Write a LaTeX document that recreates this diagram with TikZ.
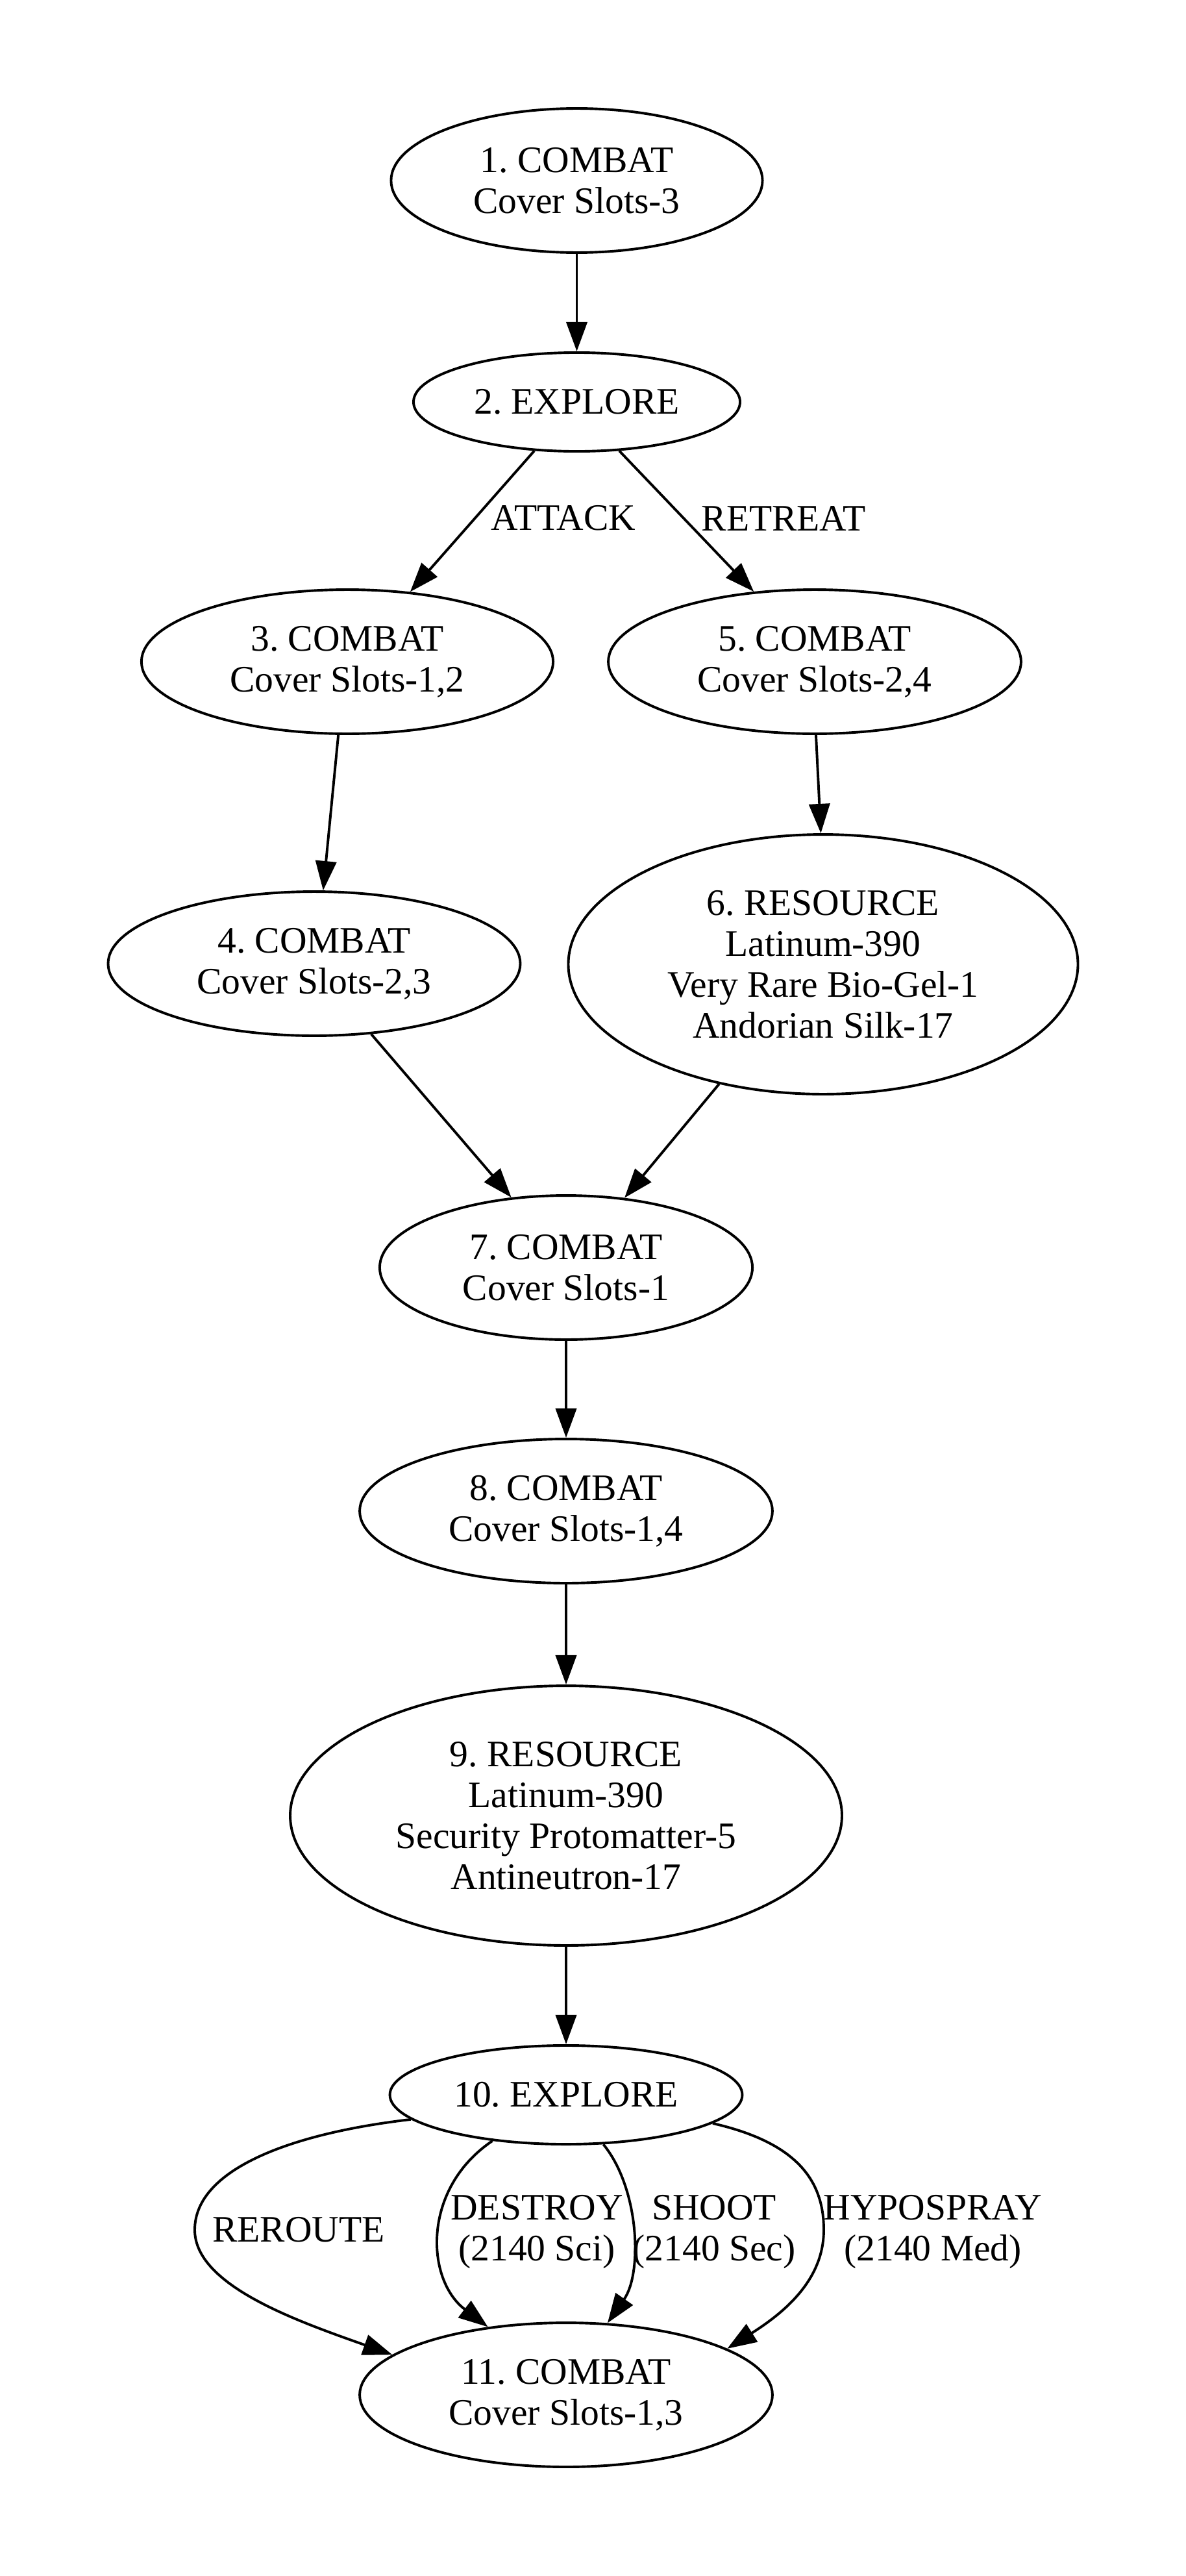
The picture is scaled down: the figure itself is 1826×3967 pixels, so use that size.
\documentclass[tikz,border=0pt]{standalone}
\usepackage{fontspec}
\setmainfont{Liberation Serif}
\usetikzlibrary{shapes.geometric,arrows.meta}
\frenchspacing
\begin{document}
\begin{tikzpicture}[x=0.2433pt,y=-0.2433pt,
  st/.style={ellipse,draw,line width=0.95pt,inner sep=0pt,align=center,font=\fontsize{14}{15.3}\selectfont},
  two/.style={minimum height=54pt},
  one/.style={minimum height=37pt},
  four/.style={minimum height=97.3pt},
  lab/.style={inner sep=0pt,align=center,font=\fontsize{14}{15.3}\selectfont},
  conn/.style={line width=0.95pt,-{Triangle[length=11pt,width=7.8pt]}}]
\fill[white] (0,0) rectangle (1826,3967);
\useasboundingbox (0,0) rectangle (1826,3967);
% nodes
\node[st,two,minimum width=139.2pt] (n1) at (888.5,278) {1. COMBAT\\Cover Slots-3};
\node[st,one,minimum width=122.4pt] (n2) at (888.5,619) {2. EXPLORE};
\node[st,two,minimum width=154.3pt] (n3) at (535,1019) {3. COMBAT\\Cover Slots-1,2};
\node[st,two,minimum width=154.7pt] (n5) at (1255,1019) {5. COMBAT\\Cover Slots-2,4};
\node[st,two,minimum width=154.5pt] (n4) at (484,1484) {4. COMBAT\\Cover Slots-2,3};
\node[st,four,minimum width=191pt] (n6) at (1268,1485) {6. RESOURCE\\Latinum-390\\Very Rare Bio-Gel-1\\Andorian Silk-17};
\node[st,two,minimum width=139.7pt] (n7) at (872,1952) {7. COMBAT\\Cover Slots-1};
\node[st,two,minimum width=154.7pt] (n8) at (872,2327) {8. COMBAT\\Cover Slots-1,4};
\node[st,four,minimum width=206.8pt] (n9) at (872,2796) {9. RESOURCE\\Latinum-390\\Security Protomatter-5\\Antineutron-17};
\node[st,one,minimum width=132.1pt] (n10) at (872,3226) {10. EXPLORE};
\node[st,two,minimum width=154.7pt] (n11) at (872,3688) {11. COMBAT\\Cover Slots-1,3};
% edge labels
\node[lab] (lattack) at (868,798) {ATTACK};
\node[lab] (lretreat) at (1207,798) {RETREAT};
\node[lab] (lreroute) at (460,3434) {REROUTE};
\node[lab] (ldestroy) at (827,3437) {DESTROY\\(2140 Sci)};
\node[lab] (lshoot) at (1100,3437) {SHOOT\\(2140 Sec)};
\node[lab] (lhypo) at (1437,3437) {HYPOSPRAY\\(2140 Med)};
% edges
\draw[conn] (n1.south) -- (n2.north);
\draw[conn] (n2.229) -- (n3.48.4);
\draw[conn] (n2.311.3) -- (n5.131.6);
\draw[conn] (n3.263.4) -- (n4.83.3);
\draw[conn] (n5.271.5) -- (n6.91.2);
\draw[conn] (n4.309.5) -- (n7.128.4);
\draw[conn] (n6.229.8) -- (n7.50);
\draw[conn] (n7.south) -- (n8.north);
\draw[conn] (n8.south) -- (n9.north);
\draw[conn] (n9.south) -- (n10.north);
\coordinate (rl) at (300,3434);
\coordinate (hr) at (1269,3434);
\draw[conn] (n10.189.2) .. controls (450,3285) and (300,3340) .. (rl)
  .. controls (300,3520) and (460,3575) .. (n11.167.9);
\draw[conn] (n10.212.1) .. controls (650,3370) and (655,3510) .. (n11.139);
\draw[conn] (n10.307.8) .. controls (985,3370) and (990,3500) .. (n11.60);
\draw[conn] (n10.349.3) .. controls (1230,3300) and (1269,3360) .. (hr)
  .. controls (1269,3510) and (1210,3560) .. (n11.16.9);
\end{tikzpicture}
\end{document}
